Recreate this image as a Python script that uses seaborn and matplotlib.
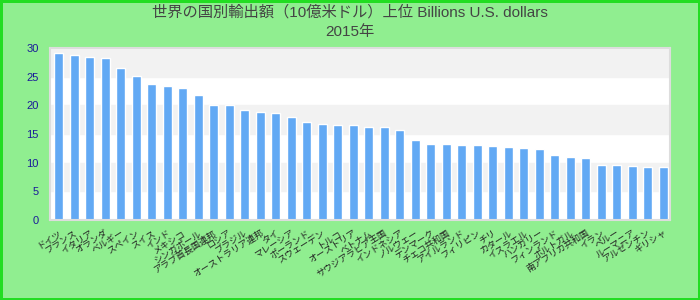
import pandas as pd
import seaborn as sns
import matplotlib.pyplot as plt

title_text = '世界の国別輸出額（10億米ドル）上位 Billions U.S. dollars\n2015年'

labels = ['ドイツ', 'フランス', 'イタリア', 'オランダ', 'ベルギー', 'スペイン', 'スイス',
          'インド', 'メキシコ', 'シンガポール', 'アラブ首長国連邦', 'ロシア', 'ブラジル',
          'オーストラリア連邦', 'タイ', 'マレーシア', 'ポーランド', 'スウェーデン', 'トルコ',
          'オーストリア', 'ベトナム', 'サウジアラビア王国', 'インドネシア', 'ノルウェー',
          'デンマーク', 'チェコ共和国', 'アイルランド', 'フィリピン', 'チリ', 'カタール',
          'イスラエル', 'ハンガリー', 'フィンランド', 'ポルトガル', '南アフリカ共和国', 'イラン',
          'ペルー', 'ルーマニア', 'アルゼンチン', 'ギリシャ']

values = [29.1, 28.8, 28.4, 28.3, 26.5, 25.1, 23.7, 23.4, 23.0, 21.8,
          20.1, 20.1, 19.2, 18.8, 18.7, 18.0, 17.1, 16.7, 16.6, 16.6,
          16.2, 16.2, 15.7, 14.0, 13.3, 13.3, 13.1, 13.1, 12.9, 12.7,
          12.6, 12.4, 11.3, 11.0, 10.8, 9.6, 9.6, 9.4, 9.2, 9.2]

df = pd.DataFrame({'label': labels, 'value': values})

sns.set_style('white')
plt.rcParams['font.family'] = ['Liberation Sans', 'Noto Sans CJK JP', 'DejaVu Sans']

fig = plt.figure(figsize=(7, 3), dpi=100, facecolor='#90ee90',
                 edgecolor='#22dd22', linewidth=2.5)
ax = fig.add_axes([0.0714, 0.2667, 0.8857, 0.5733])

# alternating grey bands
for lo in (5, 15, 25):
    ax.axhspan(lo, lo + 5, color='#f2f2f2', zorder=0)

sns.barplot(data=df, x='label', y='value', color='#62a9f4', saturation=1,
            width=0.58, ax=ax, zorder=2)

ax.set_xlim(-0.55, 39.42)
ax.set_ylim(0, 30)
ax.set_yticks(range(0, 31, 5))
ax.set_xlabel('')
ax.set_ylabel('')
ax.tick_params(axis='y', colors='#1a1a99', labelsize=8, length=0, pad=8)
ax.tick_params(axis='x', length=0, pad=6)
for t in ax.get_xticklabels():
    t.set_rotation(32)
    t.set_ha('right')
    t.set_rotation_mode('anchor')
    t.set_fontsize(6.5)
    t.set_color('#222222')
for s in ax.spines.values():
    s.set_color('#dddddd')
    s.set_linewidth(1.5)

fig.suptitle(title_text, y=0.985, fontsize=11, color='#444444', linespacing=1.5)

fig.savefig('out.png', dpi=100, facecolor=fig.get_facecolor(),
            edgecolor=fig.get_edgecolor())
